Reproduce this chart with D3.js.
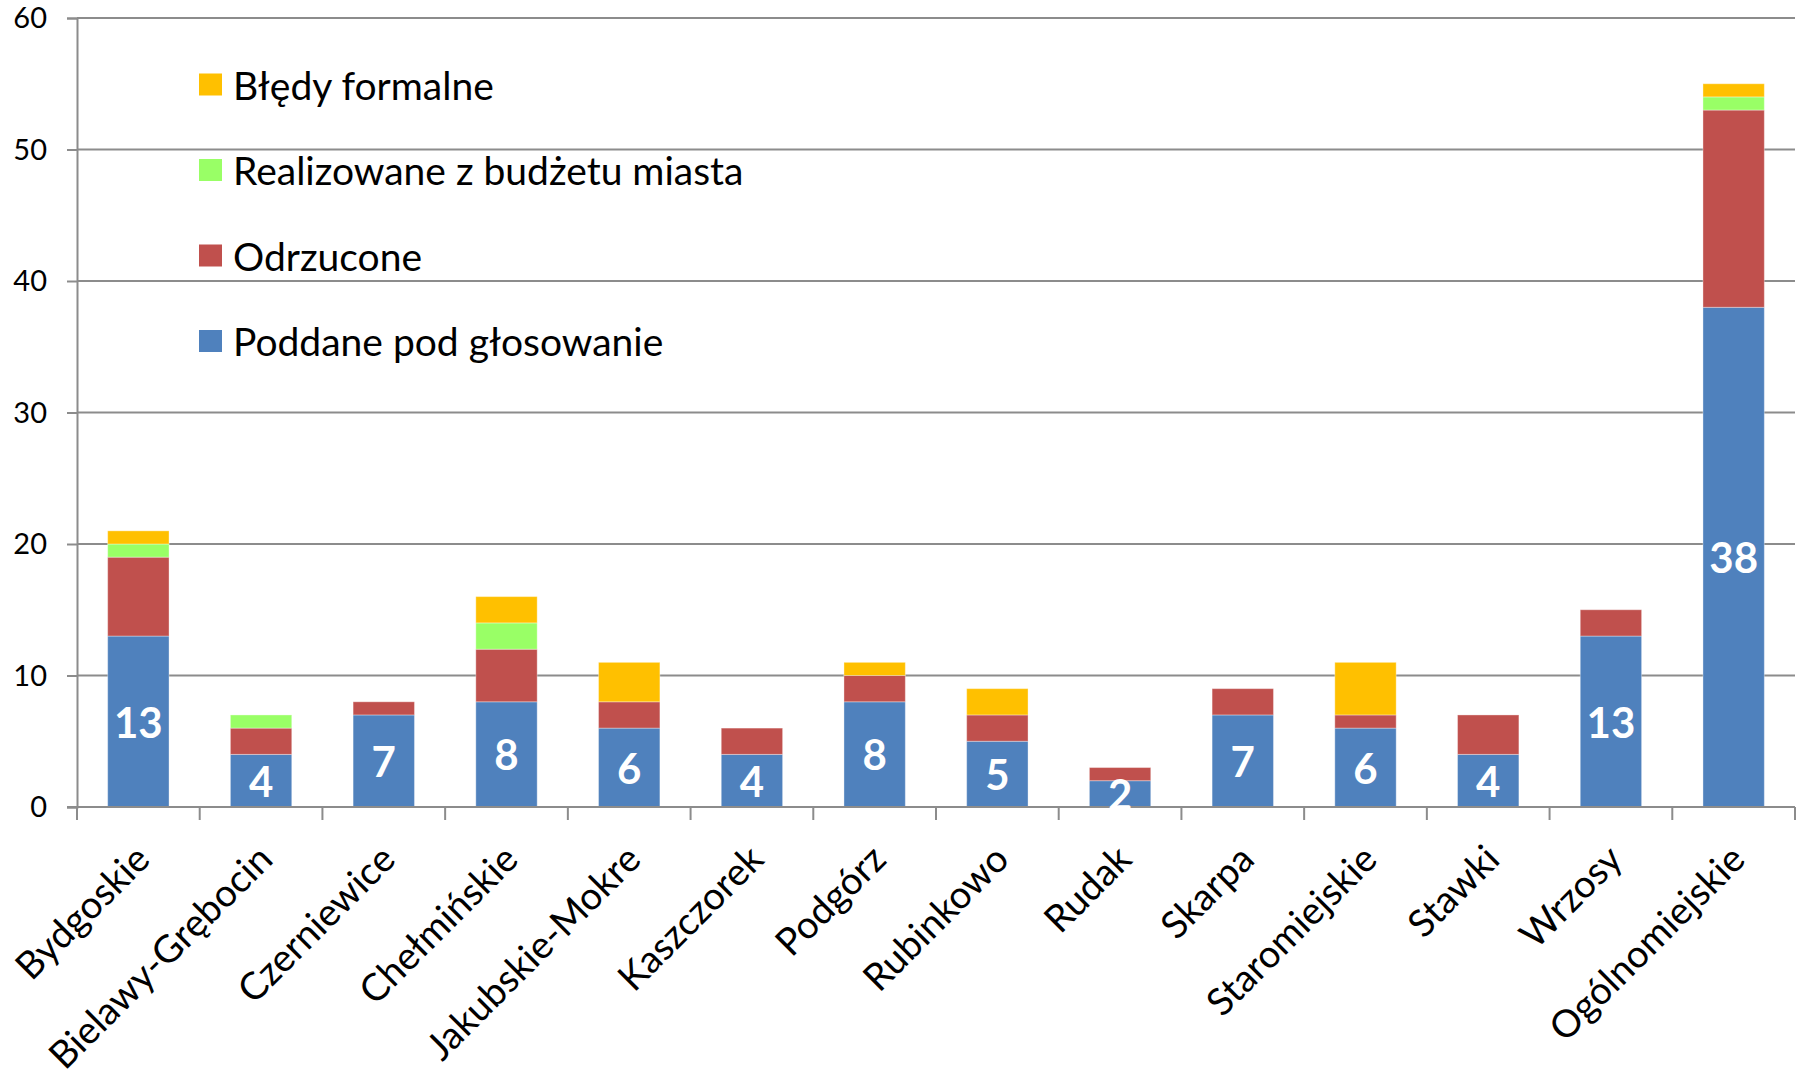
<!DOCTYPE html>
<html>
<head>
<meta charset="utf-8">
<script src="https://cdn.jsdelivr.net/npm/d3@7"></script>
<style>
  html, body { margin: 0; padding: 0; background: #fff; }
  svg { display: block; }
  text { font-family: Lato, "Noto Sans", sans-serif; }
</style>
</head>
<body>
<svg id="chart" width="1800" height="1077"></svg>
<script>
// ---- data ----
const categories = ["Bydgoskie", "Bielawy-Grębocin", "Czerniewice", "Chełmińskie", "Jakubskie-Mokre",
  "Kaszczorek", "Podgórz", "Rubinkowo", "Rudak", "Skarpa", "Staromiejskie", "Stawki", "Wrzosy", "Ogólnomiejskie"];
const seriesNames = ["Poddane pod głosowanie", "Odrzucone", "Realizowane z budżetu miasta", "Błędy formalne"];
const poddane     = [13, 4, 7, 8, 6, 4, 8, 5, 2, 7, 6, 4, 13, 38];
const odrzucone   = [ 6, 2, 1, 4, 2, 2, 2, 2, 1, 2, 1, 3,  2, 15];
const realizowane = [ 1, 1, 0, 2, 0, 0, 0, 0, 0, 0, 0, 0,  0,  1];
const bledy       = [ 1, 0, 0, 2, 3, 0, 1, 2, 0, 0, 4, 0,  0,  1];
const yTicks = [0, 10, 20, 30, 40, 50, 60];
const colors = ["#4F81BD", "#C0504D", "#99FF66", "#FFC000"];

// ---- layout ----
const svg = d3.select("#chart");
const plotLeft = 77, plotRight = 1795, plotTop = 18, plotBottom = 807;

const x = d3.scaleBand().domain(categories).range([plotLeft, plotRight]).paddingInner(0.5).paddingOuter(0.25);
const y = d3.scaleLinear().domain([0, 60]).range([plotBottom, plotTop]);

const rows = categories.map((c, i) => ({
  cat: c, s0: poddane[i], s1: odrzucone[i], s2: realizowane[i], s3: bledy[i]
}));
const stack = d3.stack().keys(["s0", "s1", "s2", "s3"])(rows);

const gridColor = "#8C8C8C";

// gridlines
svg.append("g")
  .selectAll("line").data(yTicks.filter(t => t > 0)).join("line")
  .attr("x1", plotLeft).attr("x2", plotRight)
  .attr("y1", d => y(d)).attr("y2", d => y(d))
  .attr("stroke", gridColor).attr("stroke-width", 2);

// y axis
const yAxis = d3.axisLeft(y).tickValues(yTicks).tickSize(10).tickPadding(20).tickFormat(d3.format("d"));
const gy = svg.append("g").attr("transform", `translate(${plotLeft},0)`).call(yAxis);
gy.select(".domain").attr("stroke", gridColor).attr("stroke-width", 2);
gy.selectAll(".tick line").attr("stroke", gridColor).attr("stroke-width", 2);
gy.selectAll(".tick text").attr("font-size", 29).attr("fill", "#000")
  .attr("dy", "0.34em")
  .style("font-family", "Lato, sans-serif");

// bars
svg.append("g").selectAll("g").data(stack).join("g")
  .attr("fill", (d, i) => colors[i])
  .selectAll("rect").data(d => d).join("rect")
  .attr("x", d => x(d.data.cat))
  .attr("width", x.bandwidth())
  .attr("y", d => y(d[1]))
  .attr("height", d => y(d[0]) - y(d[1]))
  .attr("stroke", "rgba(255,255,255,0.35)")
  .attr("stroke-width", 1);

// x axis line with tick marks at band boundaries
const gx = svg.append("g");
gx.append("line").attr("x1", plotLeft - 10).attr("x2", plotRight).attr("y1", plotBottom).attr("y2", plotBottom)
  .attr("stroke", gridColor).attr("stroke-width", 2);
const step = x.step();
gx.selectAll("line.tk").data(d3.range(categories.length + 1)).join("line")
  .attr("class", "tk")
  .attr("x1", i => x(categories[0]) - x.bandwidth() * 0.5 + i * step)
  .attr("x2", i => x(categories[0]) - x.bandwidth() * 0.5 + i * step)
  .attr("y1", plotBottom).attr("y2", plotBottom + 13)
  .attr("stroke", gridColor).attr("stroke-width", 2);

// category labels
gx.selectAll("text").data(categories).join("text")
  .attr("transform", d => `translate(${x(d) + x.bandwidth() / 2 + 3},${plotBottom + 44}) rotate(-45)`)
  .attr("text-anchor", "end")
  .attr("dominant-baseline", "central")
  .attr("font-size", 38)
  .attr("fill", "#000")
  .text(d => d);

// data labels on blue segment
svg.append("g").selectAll("text").data(stack[0]).join("text")
  .attr("x", d => x(d.data.cat) + x.bandwidth() / 2)
  .attr("y", d => (y(d[0]) + y(d[1])) / 2)
  .attr("text-anchor", "middle")
  .attr("dominant-baseline", "central")
  .attr("font-size", 42)
  .attr("font-weight", "bold")
  .attr("fill", "#fff")
  .text(d => d.data.s0);

// legend (reverse order: top = Błędy formalne)
const legendOrder = [3, 2, 1, 0];
const lg = svg.append("g").selectAll("g").data(legendOrder).join("g")
  .attr("transform", (d, i) => `translate(199,${84.5 + i * 85.5})`);
lg.append("rect").attr("x", 0).attr("y", -11).attr("width", 23).attr("height", 22)
  .attr("fill", d => colors[d]);
lg.append("text").attr("x", 34).attr("y", 0)
  .attr("dominant-baseline", "central")
  .attr("font-size", 39).attr("fill", "#000")
  .text(d => seriesNames[d]);
</script>
</body>
</html>
